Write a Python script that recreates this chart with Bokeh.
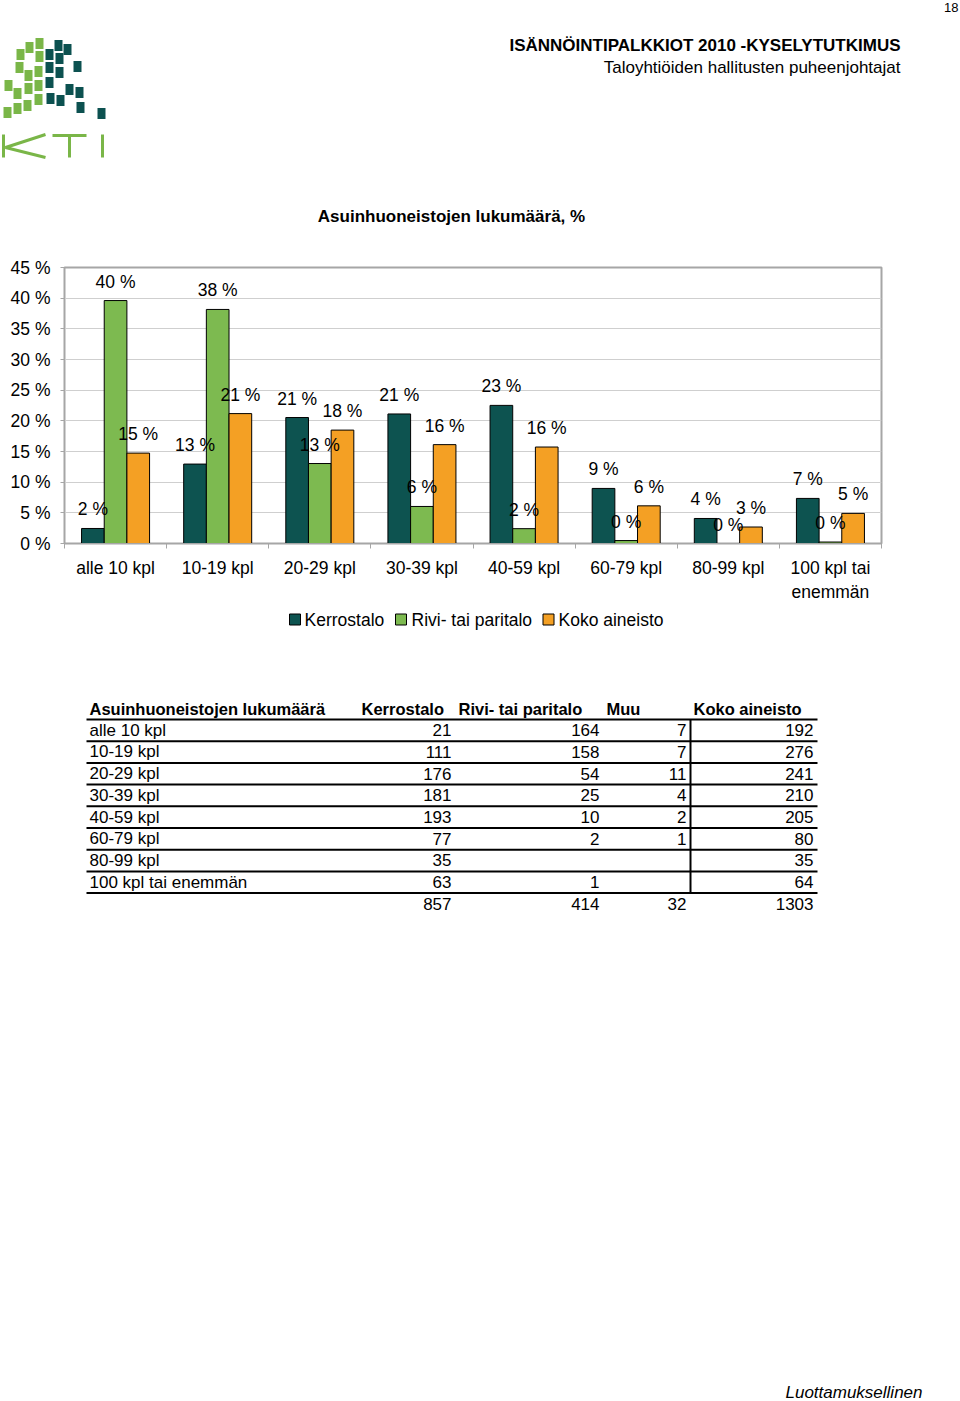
from bokeh.plotting import figure
from bokeh.models import Range1d, FixedTicker, PrintfTickFormatter, ColumnDataSource
from bokeh.transform import dodge
from bokeh.core.properties import value
from bokeh.embed import file_html
from bokeh.resources import INLINE

# ---------------- data ----------------
categories = ["alle 10 kpl", "10-19 kpl", "20-29 kpl", "30-39 kpl",
              "40-59 kpl", "60-79 kpl", "80-99 kpl", "100 kpl tai\nenemmän"]
kerrostalo_pct = [2.45, 12.95, 20.54, 21.12, 22.52, 8.98, 4.08, 7.35]
rivi_pct = [39.61, 38.16, 13.04, 6.04, 2.42, 0.48, 0.0, 0.24]
koko_pct = [14.74, 21.18, 18.49, 16.12, 15.73, 6.14, 2.69, 4.91]
series_names = ["Kerrostalo", "Rivi- tai paritalo", "Koko aineisto"]
y_ticks = [0, 5, 10, 15, 20, 25, 30, 35, 40, 45]

table_title = "Asuinhuoneistojen lukumäärä"
table_headers = ["Kerrostalo", "Rivi- tai paritalo", "Muu", "Koko aineisto"]
table_rows = ["alle 10 kpl", "10-19 kpl", "20-29 kpl", "30-39 kpl",
              "40-59 kpl", "60-79 kpl", "80-99 kpl", "100 kpl tai enemmän"]
kerrostalo_n = [21, 111, 176, 181, 193, 77, 35, 63]
rivi_n = [164, 158, 54, 25, 10, 2, None, 1]
muu_n = [7, 7, 11, 4, 2, 1, None, None]
koko_n = [192, 276, 241, 210, 205, 80, 35, 64]
totals_n = [857, 414, 32, 1303]

FONT = value("Liberation Sans")
DARK = "#0d5350"
GREEN = "#7dba50"
ORANGE = "#f4a024"
SERIES_COLORS = [DARK, GREEN, ORANGE]
LOGO_GREEN = "#7ab648"
LOGO_DARK = "#0c5150"
GRAY = "#a6a6a6"

# ---------------- figure (chart frame placed on the page) ----------------
n = len(categories)
p = figure(width=960, height=1401, x_range=Range1d(0, n), y_range=Range1d(0, 45),
           output_backend="svg", toolbar_location=None,
           min_border_left=64, min_border_right=79, min_border_top=267,
           min_border_bottom=858)
p.outline_line_color = GRAY
p.outline_line_width = 2
p.xgrid.visible = False
p.ygrid.grid_line_color = "#cfcfcf"
p.ygrid.grid_line_width = 1

# page-pixel coordinate system for the surrounding page content
p.extra_x_ranges = {"page": Range1d(64, 881)}
p.extra_y_ranges = {"page": Range1d(543, 267)}
PG = dict(x_range_name="page", y_range_name="page", level="overlay")

centers = [i + 0.5 for i in range(n)]
src = ColumnDataSource(dict(
    x=centers, k=kerrostalo_pct, r=rivi_pct, o=koko_pct,
    kl=["%.0f %%" % v for v in kerrostalo_pct],
    rl=["%.0f %%" % v for v in rivi_pct],
    ol=["%.0f %%" % v for v in koko_pct],
))

bw = 0.222
for off, col, color in zip([-bw, 0, bw], ["k", "r", "o"], SERIES_COLORS):
    p.vbar(x=dodge("x", off, range=p.x_range), top=col, width=bw, bottom=0,
           source=src, fill_color=color, line_color="black", line_width=1)
for off, col, lab in [(-bw, "k", "kl"), (0, "r", "rl"), (bw, "o", "ol")]:
    p.text(x=dodge("x", off, range=p.x_range), y=col, text=lab, source=src,
           text_align="center", text_baseline="alphabetic", y_offset=-19,
           text_font=FONT, text_font_size="17.5px", text_color="black")

p.yaxis.ticker = FixedTicker(ticks=y_ticks)
p.yaxis.formatter = PrintfTickFormatter(format="%d %%")
p.yaxis.axis_line_color = GRAY
p.yaxis.major_tick_line_color = GRAY
p.yaxis.major_tick_out = 4
p.yaxis.major_tick_in = 0
p.yaxis.minor_tick_line_color = None
p.yaxis.major_label_standoff = 10
p.yaxis.major_label_text_font = "Liberation Sans"
p.yaxis.major_label_text_font_size = "17.5px"
p.yaxis.major_label_text_color = "black"

p.xaxis.ticker = FixedTicker(ticks=centers, minor_ticks=list(range(n + 1)))
p.xaxis.major_label_overrides = {c: lab for c, lab in zip(centers, categories)}
p.xaxis.axis_line_color = GRAY
p.xaxis.major_tick_line_color = None
p.xaxis.major_tick_out = 0
p.xaxis.major_tick_in = 0
p.xaxis.minor_tick_line_color = GRAY
p.xaxis.minor_tick_out = 5
p.xaxis.minor_tick_in = 0
p.xaxis.major_label_standoff = 9
p.xaxis.major_label_text_font = "Liberation Sans"
p.xaxis.major_label_text_font_size = "17.5px"
p.xaxis.major_label_text_color = "black"

# ---------------- legend (below the chart) ----------------
leg_box_x = [294.5, 400.5, 548]
leg_text_x = [304, 411, 558]
leg_y = 619
p.rect(x=leg_box_x, y=[leg_y] * 3, width=11, height=11, fill_color=SERIES_COLORS,
       line_color="black", line_width=1, **PG)
p.text(x=leg_text_x, y=[leg_y] * 3, text=series_names, text_align="left",
       text_baseline="middle", text_font=FONT, text_font_size="17.5px",
       text_color="black", **PG)

# ---------------- header (logo + texts) ----------------
gx = [39, 39, 38, 38, 38, 29, 28, 28, 27, 20, 19, 17, 17, 8, 7]
gy = [43, 56, 71, 85, 99, 47, 75, 88, 105, 54, 67, 93, 108, 85, 112]
tx = [49, 49, 49, 50, 58, 59, 59, 60, 67, 69, 77, 79, 80, 101]
ty = [54, 67, 82, 98, 45, 58, 72, 100, 49, 89, 66, 92, 107, 113]
p.rect(x=gx, y=gy, width=8, height=11, fill_color=LOGO_GREEN, line_color=None, **PG)
p.rect(x=tx, y=ty, width=8, height=11, fill_color=LOGO_DARK, line_color=None, **PG)
p.multi_line(xs=[[3, 3], [45, 5, 45], [52, 86], [69, 69], [102, 102]],
             ys=[[134, 157], [134, 147, 157], [135, 135], [135, 157], [134, 157]],
             line_color=LOGO_GREEN, line_width=3, **PG)

p.text(x=[958], y=[7], text=["18"], text_align="right", text_baseline="middle",
       text_font=FONT, text_font_size="13px", text_color="black", **PG)
p.text(x=[900], y=[45], text=["ISÄNNÖINTIPALKKIOT 2010 -KYSELYTUTKIMUS"],
       text_align="right", text_baseline="middle", text_font=FONT,
       text_font_size="17px", text_font_style="bold", text_color="black", **PG)
p.text(x=[900], y=[67], text=["Taloyhtiöiden hallitusten puheenjohtajat"],
       text_align="right", text_baseline="middle", text_font=FONT,
       text_font_size="17px", text_color="black", **PG)
p.text(x=[451], y=[216], text=["Asuinhuoneistojen lukumäärä, %"],
       text_align="center", text_baseline="middle", text_font=FONT,
       text_font_size="17px", text_font_style="bold", text_color="black", **PG)

# ---------------- table + footer ----------------
row_h = 21.7
y0 = 708
hx = [361, 458, 606, 693]
p.text(x=[89] + hx, y=[y0] * 5, text=[table_title] + table_headers,
       text_align="left", text_baseline="middle", text_font=FONT,
       text_font_size="16.5px", text_font_style="bold", text_color="black", **PG)

right_x = [451, 599, 686, 813]
cols = [kerrostalo_n, rivi_n, muu_n, koko_n]
ys = [y0 + row_h * (i + 1) for i in range(len(table_rows))]
p.text(x=[89] * len(table_rows), y=ys, text=table_rows, text_align="left",
       text_baseline="middle", text_font=FONT, text_font_size="17px",
       text_color="black", **PG)
vx, vy, vt = [], [], []
for cx, colvals in zip(right_x, cols):
    for yy, v in zip(ys, colvals):
        if v is not None:
            vx.append(cx); vy.append(yy); vt.append(str(v))
ytot = y0 + row_h * (len(table_rows) + 1)
for cx, v in zip(right_x, totals_n):
    vx.append(cx); vy.append(ytot); vt.append(str(v))
p.text(x=vx, y=vy, text=vt, text_align="right", text_baseline="middle",
       text_font=FONT, text_font_size="17px", text_color="black", **PG)

line_y = [y0 + 11 + row_h * i for i in range(len(table_rows) + 1)]
p.segment(x0=[86] * len(line_y), x1=[817] * len(line_y), y0=line_y, y1=line_y,
          line_color="black", line_width=2, **PG)
p.segment(x0=[690], x1=[690], y0=[line_y[0]], y1=[line_y[-1]],
          line_color="black", line_width=2, **PG)

p.text(x=[922], y=[1392], text=["Luottamuksellinen"], text_align="right",
       text_baseline="middle", text_font=FONT, text_font_size="17px",
       text_font_style="italic", text_color="black", **PG)

open("out.html", "w").write(file_html(p, INLINE))
